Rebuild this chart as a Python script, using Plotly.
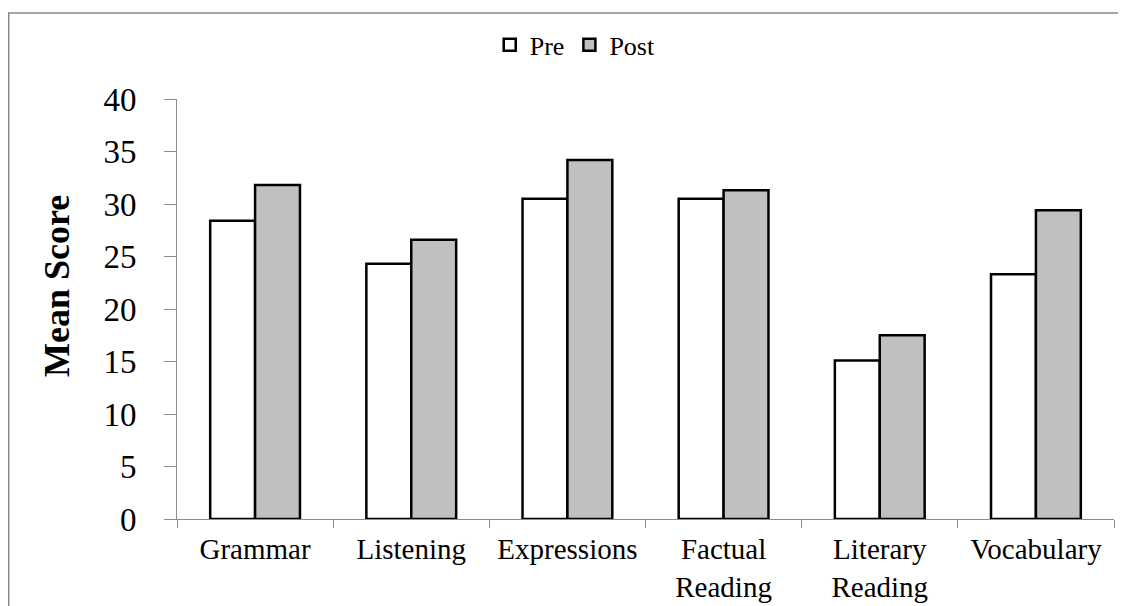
import plotly.graph_objects as go

categories = ["Grammar", "Listening", "Expressions", "Factual<br>Reading", "Literary<br>Reading", "Vocabulary"]
pre_values = [28.4, 24.3, 30.5, 30.5, 15.1, 23.3]
post_values = [31.8, 26.6, 34.2, 31.3, 17.5, 29.4]
y_ticks = [0, 5, 10, 15, 20, 25, 30, 35, 40]
y_title = "Mean Score"

FONT = "Liberation Serif, Times New Roman, serif"
GRAY_AXIS = "#8c8c8c"

fig = go.Figure()
fig.add_trace(go.Bar(
    name="Pre", x=categories, y=pre_values,
    marker=dict(color="#ffffff", line=dict(color="#000000", width=2.5)),
))
fig.add_trace(go.Bar(
    name="Post", x=categories, y=post_values,
    marker=dict(color="#c0c0c0", line=dict(color="#000000", width=2.5)),
))

# page body has an 8px margin, so figure is 1118x598 placed at (8,8)
fig.update_layout(
    width=1118, height=598,
    margin=dict(l=169, r=12, t=91, b=87, autoexpand=False),
    paper_bgcolor="#ffffff", plot_bgcolor="#ffffff",
    barmode="group", bargap=0.425, bargroupgap=0,
    font=dict(family=FONT, color="#000000"),
    legend=dict(
        orientation="h", x=0.425, xanchor="center", y=1.129, yanchor="middle",
        font=dict(size=26, family=FONT), itemwidth=30, traceorder="normal",
        bgcolor="rgba(0,0,0,0)",
    ),
    showlegend=True,
)

fig.update_xaxes(
    showline=True, linecolor=GRAY_AXIS, linewidth=1,
    ticks="outside", tickson="boundaries", ticklen=8, tickcolor=GRAY_AXIS,
    tickfont=dict(size=29, family=FONT, color="#000000"),
    ticklabelstandoff=4,
    showgrid=False, zeroline=False, automargin=False,
)
fig.update_yaxes(
    range=[0, 40], tickvals=y_ticks,
    showline=True, linecolor=GRAY_AXIS, linewidth=1,
    ticks="outside", ticklen=12, tickcolor=GRAY_AXIS,
    tickfont=dict(size=33, family=FONT, color="#000000"),
    ticklabelstandoff=21,
    showgrid=False, zeroline=False, automargin=False,
)

fig.add_annotation(
    text="<b>" + y_title + "</b>", textangle=-90,
    xref="paper", yref="paper", x=-0.128, y=0.555,
    xanchor="center", yanchor="middle", showarrow=False,
    font=dict(size=36, family=FONT, color="#000000"),
)

# outer chart border (cropped at right and bottom in the reference)
fig.add_shape(
    type="rect", xref="paper", yref="paper",
    x0=-0.1796, x1=1.5, y0=-0.6, y1=1.2048,
    line=dict(color="#888888", width=1.5), fillcolor="rgba(0,0,0,0)", layer="below",
)

fig.write_html("out.html")
